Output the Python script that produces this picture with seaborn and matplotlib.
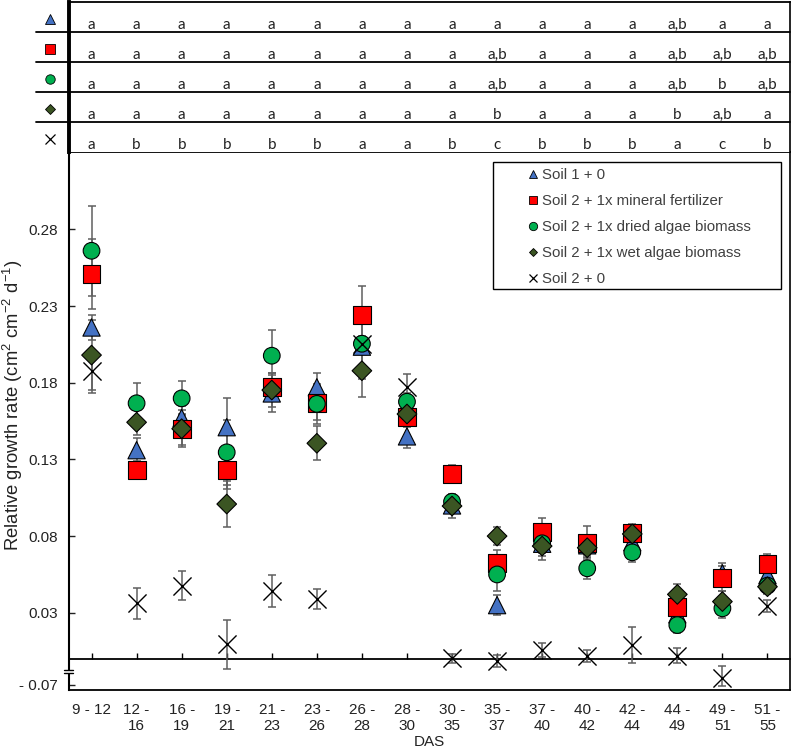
# relative growth rate per sampling interval, with significance letters on top

import numpy as np
import pandas as pd
import matplotlib
matplotlib.use('Agg')
from matplotlib import pyplot as plt
from matplotlib.lines import Line2D
from matplotlib.patches import Rectangle
import matplotlib.transforms as mtransforms
import seaborn as sns

# ---- data ----
periods = ['9 - 12', '12 -\n16', '16 -\n19', '19 -\n21', '21 -\n23', '23 -\n26', '26 -\n28', '28 -\n30',
           '30 -\n35', '35 -\n37', '37 -\n40', '40 -\n42', '42 -\n44', '44 -\n49', '49 -\n51', '51 -\n55']

series = ['Soil 1 + 0', 'Soil 2 + 1x mineral fertilizer', 'Soil 2 + 1x dried algae biomass',
          'Soil 2 + 1x wet algae biomass', 'Soil 2 + 0']

soil1 = [0.216, 0.136, 0.157, 0.151, 0.173, 0.177, 0.2035, 0.145, 0.100, 0.035, 0.075, 0.074, 0.076, 0.029, 0.0557, 0.0546]
soil1_err = [0.008, 0.008, 0.008, 0.019, 0.012, 0.009, 0.005, 0.0076, 0.004, 0.0065, 0.006, 0.006, 0.005, 0.005, 0.007, 0.005]

mineral = [0.251, 0.123, 0.1496, 0.123, 0.177, 0.1666, 0.224, 0.1578, 0.1203, 0.0622, 0.0829, 0.0757, 0.0822, 0.034, 0.0525, 0.0616]
mineral_err = [0.023, 0.006, 0.010, 0.012, 0.009, 0.011, 0.019, 0.007, 0.006, 0.009, 0.009, 0.011, 0.006, 0.007, 0.008, 0.007]

dried = [0.266, 0.1666, 0.1698, 0.1346, 0.1976, 0.1662, 0.2054, 0.1676, 0.1024, 0.055, 0.0753, 0.059, 0.0694, 0.022, 0.0329, 0.0477]
dried_err = [0.0295, 0.0134, 0.011, 0.021, 0.017, 0.013, 0.005, 0.006, 0.005, 0.011, 0.008, 0.007, 0.006, 0.005, 0.006, 0.005]

wet = [0.198, 0.1542, 0.150, 0.1009, 0.1752, 0.1405, 0.1878, 0.1596, 0.0996, 0.080, 0.0735, 0.0724, 0.0814, 0.042, 0.0373, 0.047]
wet_err = [0.023, 0.008, 0.012, 0.015, 0.011, 0.011, 0.017, 0.006, 0.008, 0.006, 0.009, 0.006, 0.005, 0.0065, 0.007, 0.005]

control = [0.1876, 0.0362, 0.0477, 0.0095, 0.0442, 0.0388, 0.2054, 0.1774, 0.0003, -0.0014, 0.0057, 0.002, 0.009, 0.002, -0.040, 0.0344]
control_err = [0.014, 0.010, 0.0095, 0.016, 0.0103, 0.0064, 0.023, 0.008, 0.003, 0.004, 0.0045, 0.004, 0.0115, 0.005, 0.035, 0.004]

letters_soil1 = ['a'] * 13 + ['a,b', 'a', 'a']
letters_mineral = ['a'] * 9 + ['a,b', 'a', 'a', 'a', 'a,b', 'a,b', 'a,b']
letters_dried = ['a'] * 9 + ['a,b', 'a', 'a', 'a', 'a,b', 'b', 'a,b']
letters_wet = ['a'] * 9 + ['b', 'a', 'a', 'a', 'b', 'a,b', 'a']
letters_control = ['a', 'b', 'b', 'b', 'b', 'b', 'a', 'a', 'b', 'c', 'b', 'b', 'b', 'a', 'c', 'b']

ytick_values = [-0.07, 0.03, 0.08, 0.13, 0.18, 0.23, 0.28]
ytick_labels = ['- 0.07', '0.03', '0.08', '0.13', '0.18', '0.23', '0.28']

# ---- style ----
colors = {series[0]: '#4472C4', series[1]: '#FF0000', series[2]: '#00B050', series[3]: '#3B5523', series[4]: 'black'}
markers = {series[0]: '^', series[1]: 's', series[2]: 'o', series[3]: 'D', series[4]: 'x'}
sizes = {series[0]: 155, series[1]: 165, series[2]: 144, series[3]: 100}

sns.set_theme(style='white')
plt.rcParams['font.family'] = ['Liberation Sans', 'DejaVu Sans']
plt.rcParams['mathtext.fontset'] = 'custom'
plt.rcParams['mathtext.rm'] = 'Liberation Sans'
plt.rcParams['mathtext.it'] = 'Liberation Sans'

# broken y axis: linear above BREAK, squeezed below it
BREAK = -0.007
SQUEEZE = 0.158


def fwd(y):
    y = np.asarray(y, dtype=float)
    return np.where(y >= BREAK, y, BREAK + (y - BREAK) * SQUEEZE)


def inv(u):
    u = np.asarray(u, dtype=float)
    return np.where(u >= BREAK, u, BREAK + (u - BREAK) / SQUEEZE)


values = [soil1, mineral, dried, wet, control]
errors = [soil1_err, mineral_err, dried_err, wet_err, control_err]
frames = []
for name, v, e in zip(series, values, errors):
    frames.append(pd.DataFrame({'treatment': name, 'pos': np.arange(len(periods)), 'rgr': v, 'err': e}))
df = pd.concat(frames, ignore_index=True)

fig = plt.figure(figsize=(7.93, 7.49), dpi=100)
ax = fig.add_axes([69 / 793, 59 / 749, 721 / 793, 538 / 749])
ax_t = fig.add_axes([69 / 793, 597 / 749, 721 / 793, 150 / 749])

ax.set_yscale('function', functions=(fwd, inv))
ylo, yhi = -0.0914, 0.3304
ax.set_ylim(ylo, yhi)
ax.set_xlim(-0.5, len(periods) - 0.5)

# error bars behind the markers
for name in series:
    d = df[df.treatment == name]
    ax.errorbar(d.pos, d.rgr, yerr=d.err, fmt='none', ecolor='#5f5f5f', elinewidth=1.1,
                capsize=3.2, capthick=1.1, zorder=2)

filled_names = series[:4]
filled = df[df.treatment.isin(filled_names)]
sns.scatterplot(data=filled, x='pos', y='rgr', hue='treatment', style='treatment', size='treatment',
                hue_order=filled_names, style_order=filled_names, size_order=filled_names,
                palette={n: colors[n] for n in filled_names},
                markers={n: markers[n] for n in filled_names}, sizes=sizes,
                edgecolor='black', linewidth=0.8, legend=False, ax=ax, zorder=3)
sns.scatterplot(data=df[df.treatment == series[4]], x='pos', y='rgr', marker='x', color='black',
                s=170, linewidth=1.0, legend=False, ax=ax, zorder=4)

ax.set_yticks(ytick_values)
ax.set_yticklabels(ytick_labels)
ax.yaxis.set_minor_locator(matplotlib.ticker.NullLocator())
ax.set_xticks(range(len(periods)))
ax.set_xticklabels(periods)
ax.tick_params(axis='x', length=0, pad=9, labelsize=11, colors='#222222')
ax.tick_params(axis='y', direction='in', length=4, width=1, pad=8, labelsize=11, colors='#222222',
               left=True)
ax.set_xlabel('DAS', fontsize=11, labelpad=2, color='#222222')
ax.set_ylabel('Relative growth rate (cm$^{2}$ cm$^{-2}$ d$^{-1}$)', fontsize=13.3, color='#222222')
ax.yaxis.label.set_verticalalignment('center')
ax.yaxis.label.set_horizontalalignment('center')
ax.yaxis.set_label_coords(-0.078, 0.53)
for side, lw in [('left', 1.5), ('bottom', 1.3), ('top', 1.3), ('right', 1.2)]:
    ax.spines[side].set_color('black')
    ax.spines[side].set_linewidth(lw)

# zero line with inward category ticks
span = fwd(yhi) - fwd(ylo)
zero_frac = float((fwd(0.0) - fwd(ylo)) / span)
sec = ax.secondary_xaxis(zero_frac)
sec.set_xticks(range(len(periods)))
sec.tick_params(axis='x', direction='in', length=4, width=1, labelbottom=False, labeltop=False,
                color='black')
sec.spines['bottom'].set_linewidth(1.3)
sec.spines['bottom'].set_color('black')

# axis break mark
brk = float((fwd(BREAK) - fwd(ylo)) / span)
ax.add_patch(Rectangle((-0.01, brk - 0.006), 0.02, 0.006, transform=ax.transAxes,
                       facecolor='white', edgecolor='none', clip_on=False, zorder=5))
for yy in (brk, brk - 0.006):
    ax.plot([-0.007, 0.005], [yy, yy], transform=ax.transAxes, color='black', lw=1.0,
            clip_on=False, zorder=6)

# legend in a drawn box
handles = []
leg_ms = {series[0]: 6, series[1]: 5.8, series[2]: 6, series[3]: 4.3, series[4]: 6}
for name in series:
    if name == series[4]:
        handles.append(Line2D([], [], ls='none', marker='x', color='black', ms=leg_ms[name], mew=0.9))
    else:
        handles.append(Line2D([], [], ls='none', marker=markers[name], mfc=colors[name], mec='black',
                              ms=leg_ms[name], mew=0.6))
ax.add_patch(Rectangle((0.588, 0.745), 0.3995, 0.236, transform=ax.transAxes, facecolor='white',
                       edgecolor='black', lw=1.0, zorder=7))
leg = ax.legend(handles, series, loc='upper left', bbox_to_anchor=(0.6366, 0.9694), frameon=False,
                fontsize=10.8, handlelength=0.7, handletextpad=0.25, labelspacing=0.8, borderpad=0,
                borderaxespad=0, labelcolor='#404040')
leg.set_zorder(8)

# significance table on top
ax_t.set_xlim(-0.5, len(periods) - 0.5)
ax_t.set_ylim(5, 0)
ax_t.set_xticks([])
ax_t.set_yticks([])
ax_t.spines['bottom'].set_visible(False)
ax_t.spines['left'].set_linewidth(2.8)
ax_t.spines['top'].set_linewidth(1.3)
ax_t.spines['right'].set_linewidth(1.2)
for s in ['left', 'top', 'right']:
    ax_t.spines[s].set_color('black')
sym_trans = mtransforms.blended_transform_factory(ax_t.transAxes, ax_t.transData)
for r in range(1, 5):
    ax_t.plot([-0.046, 1], [r, r], transform=sym_trans, color='black', lw=1.3, clip_on=False)

letter_rows = [letters_soil1, letters_mineral, letters_dried, letters_wet, letters_control]
tab_ms = {series[0]: 7, series[1]: 6.6, series[2]: 6.8, series[3]: 4.8, series[4]: 7}
for r, (name, row) in enumerate(zip(series, letter_rows)):
    for i, lab in enumerate(row):
        ax_t.text(i, r + 0.76, lab, ha='center', va='center', fontsize=11, family='Lato', color='#222222')
    if name == series[4]:
        ax_t.plot([-0.026], [r + 0.55], transform=sym_trans, ls='none', marker='x', color='black',
                  ms=tab_ms[name], mew=0.9, clip_on=False)
    else:
        ax_t.plot([-0.026], [r + 0.55], transform=sym_trans, ls='none', marker=markers[name],
                  mfc=colors[name], mec='black', ms=tab_ms[name], mew=0.6, clip_on=False)

fig.savefig('out.png', dpi=100)
